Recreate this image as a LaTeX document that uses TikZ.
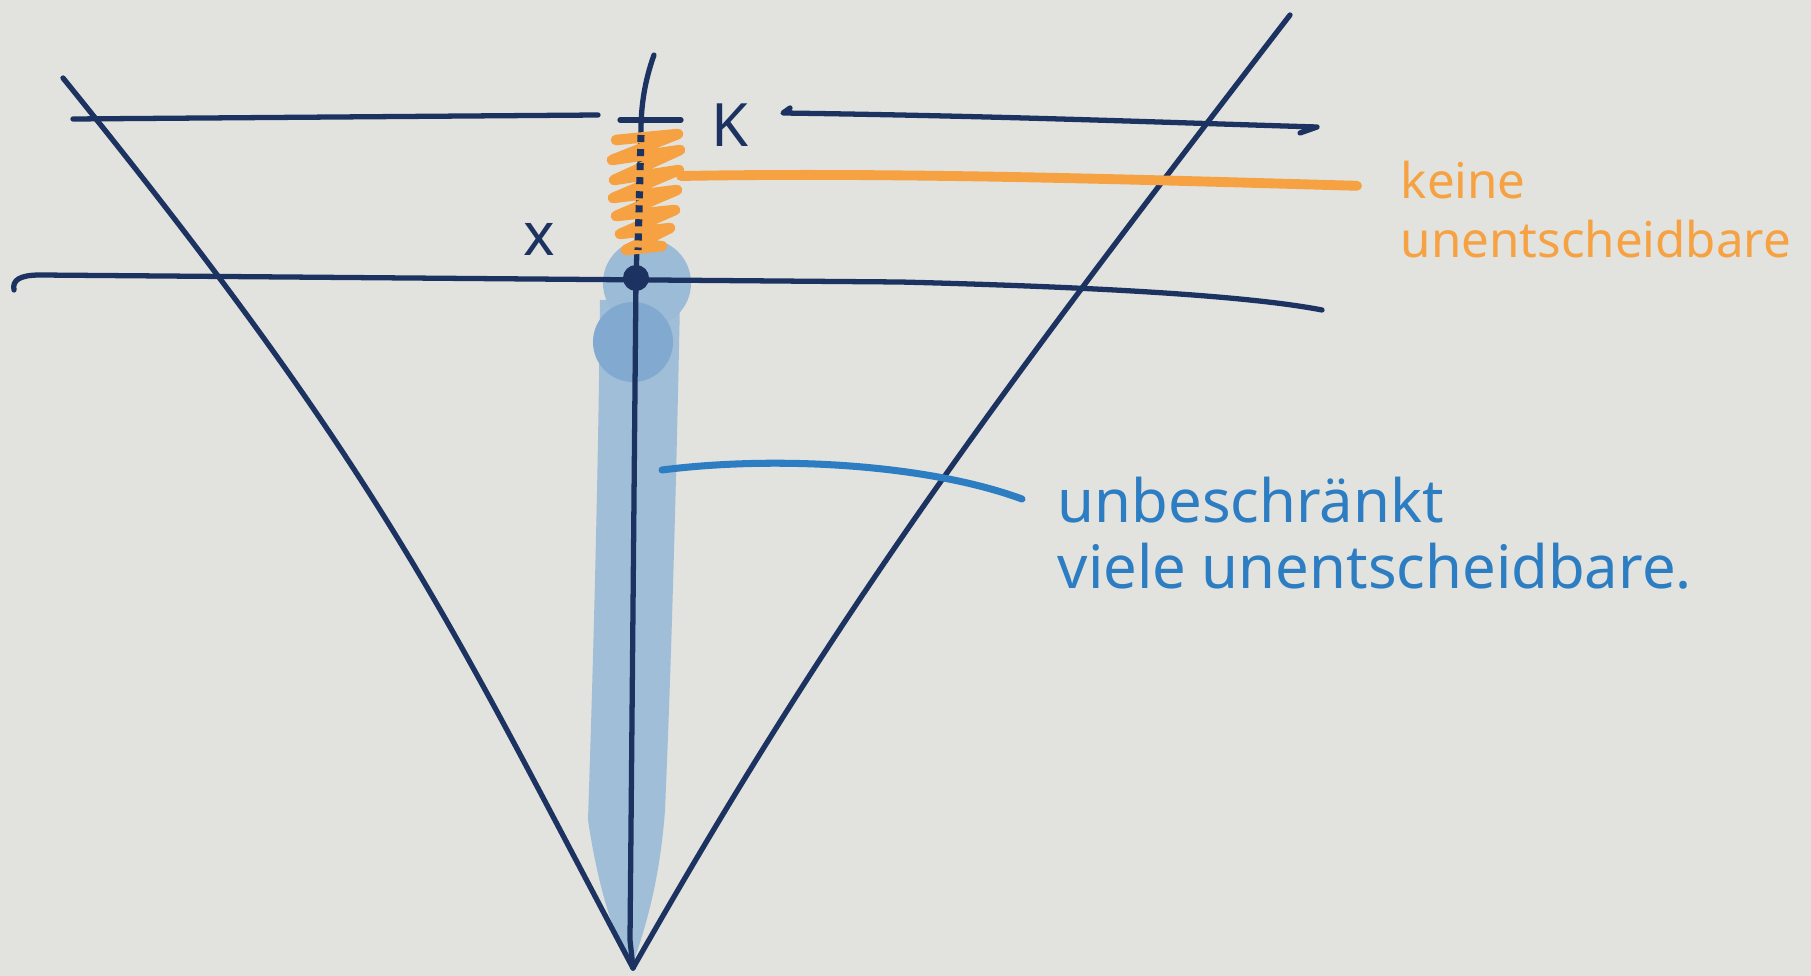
\documentclass[tikz,border=0pt]{standalone}
\usepackage{fontspec}
\setmainfont{Noto Sans}
\definecolor{paper}{RGB}{226,226,222}
\definecolor{ink}{RGB}{28,50,96}
\definecolor{marker}{RGB}{246,162,66}
\definecolor{pen}{RGB}{45,125,195}
\definecolor{band}{RGB}{160,190,216}
\definecolor{blob}{RGB}{130,170,208}
\tikzset{
	inkline/.style={ink, line width=1.5pt, line cap=round, line join=round},
	handtext/.style={align=left, inner sep=0pt}
}

\begin{document}
\begin{tikzpicture}[x=0.01cm, y=-0.01cm]
	% paper
	\fill[paper] (0,0) rectangle (1811,976);
	\useasboundingbox (0,0) rectangle (1811,976);
	% light blue band below x
	\fill[band] (600,300) .. controls (598,500) and (592,700) .. (588,820)
		.. controls (600,900) and (618,945) .. (632,966)
		.. controls (645,930) and (660,880) .. (665,810)
		.. controls (672,650) and (677,450) .. (680,300) -- cycle;
	\fill[band!85!blob] (647,283) circle (0.44cm);
	\fill[blob] (633,342) circle (0.4cm);
	% the V
	\coordinate (apex) at (633,968);
	\draw[inkline] (63,78) .. controls (387,478) and (447,618) .. (apex);
	\draw[inkline] (1290,15) .. controls (982,415) and (832,618) .. (apex);
	% vertical line
	\draw[inkline] (654,55) .. controls (645,80) and (641,105) .. (641,130) -- (636,278) -- (630,940) -- (apex);
	% horizontal lines
	\draw[inkline] (73,119) -- (598,115);
	\draw[inkline] (790,108) -- (783,113) .. controls (1000,116) and (1150,122) .. (1317,127) -- (1300,133);
	\draw[inkline] (14,290) .. controls (12,280) and (20,275) .. (40,275) -- (900,282)
		.. controls (1100,287) and (1250,296) .. (1322,310);
	% tick at K
	\draw[inkline] (620,120) -- (681,120);
	\node[ink, font=\fontsize{17}{17}\selectfont\bfseries] (K) at (730,125) {K};
	% orange scribble between K and x
	\draw[marker, line width=3pt, line cap=round, line join=round]
		(616,140) -- (678,134) -- (612,160) -- (680,150) -- (614,180) -- (679,170)
		-- (613,198) -- (677,190) -- (616,216) -- (675,210) -- (620,234) -- (670,228)
		-- (626,250) -- (662,246);
	\draw[ink, line width=2pt, dotted] (641,135) -- (638,250);
	% point x
	\coordinate (X) at (636,278);
	\fill[ink] (X) circle (0.13cm);
	\node[ink, font=\fontsize{17}{17}\selectfont\bfseries] (xlab) at (539,239) {x};
	% labels
	\node[handtext, marker, anchor=north west, font=\fontsize{14}{17}\selectfont] (keine) at (1400,160) {keine\\unentscheidbare};
	\node[handtext, pen, anchor=north west, font=\fontsize{17}{19}\selectfont] (viele) at (1057,476) {unbeschränkt\\viele unentscheidbare.};
	% connectors
	\coordinate (scrib) at (681,176);
	\draw[marker, line width=2.8pt, line cap=round, shorten >=0.43cm] (scrib) .. controls (900,172) and (1150,180) .. (keine.west |- 0,187);
	\coordinate (bandr) at (662,470);
	\draw[pen, line width=2pt, line cap=round] (bandr) .. controls (780,455) and (930,465) .. (1022,499);
\end{tikzpicture}
\end{document}
